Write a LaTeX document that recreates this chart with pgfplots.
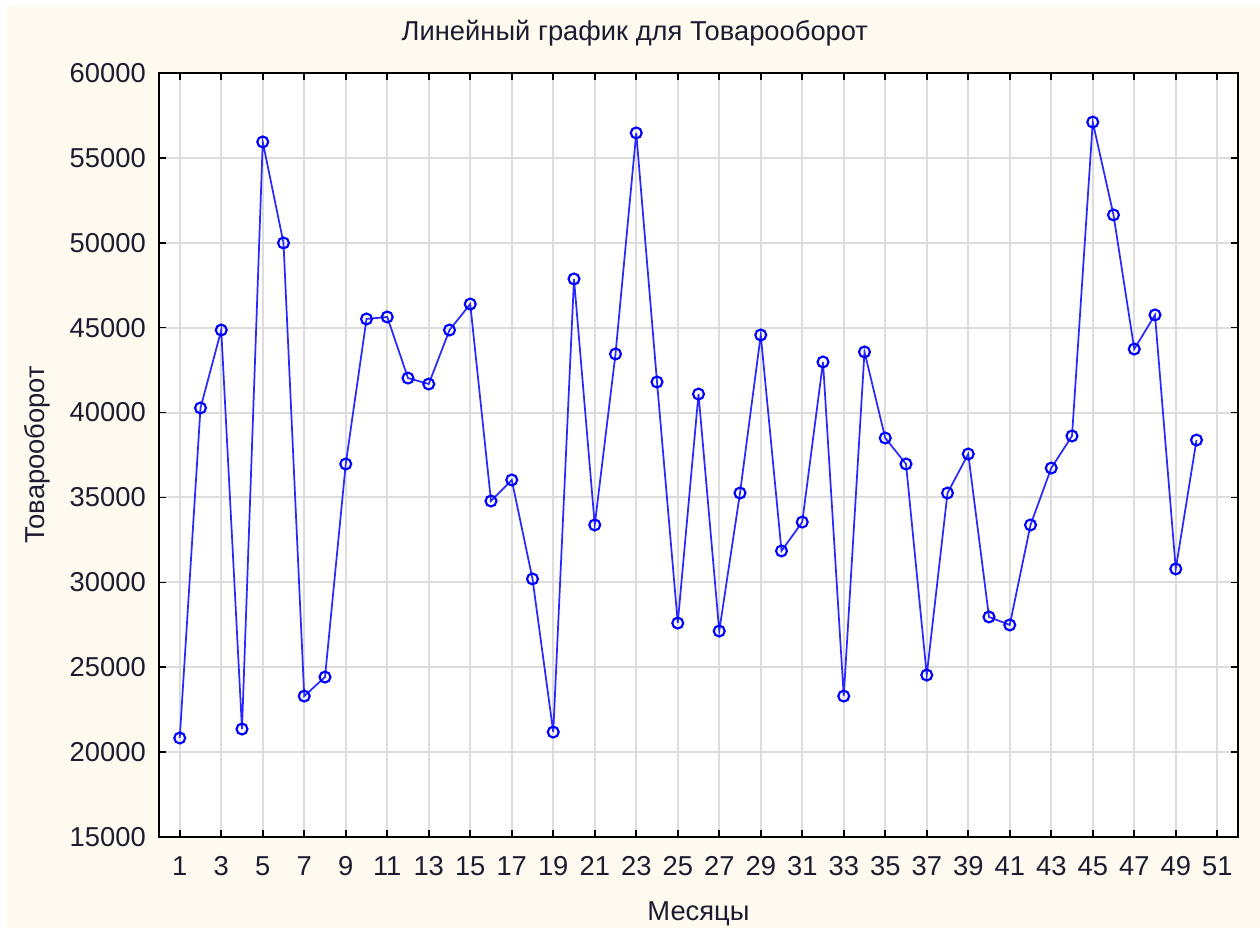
\documentclass[border=0pt]{standalone}
\usepackage{fontspec}
\setmainfont{Liberation Sans}
\usepackage{pgfplots}
\pgfplotsset{compat=1.18}
\definecolor{bgcream}{RGB}{255,250,240}
\definecolor{gridgray}{RGB}{221,221,221}
\definecolor{txt}{RGB}{28,28,48}
\definecolor{lineblue}{RGB}{40,40,255}
\begin{document}
\begin{tikzpicture}[x=1pt,y=1pt]
\fill[white] (0,0) rectangle (945,696);
\fill[bgcream] (5.25,0) rectangle (945,692.25);
\begin{axis}[
  at={(119.25pt,68.25pt)}, anchor=south west,
  scale only axis, width=809.25pt, height=573pt,
  xmin=0, xmax=52, ymin=15000, ymax=60000,
  xtick={1,3,...,51},
  ytick={15000,20000,...,60000},
  scaled y ticks=false,
  /pgf/number format/assume math mode=true,
  /pgf/number format/set thousands separator={},
  font=\fontsize{20.5}{24}\selectfont,
  tick label style={text=txt},
  xticklabel style={anchor=base, inner sep=0pt, yshift=-29.25pt},
  yticklabel style={anchor=east, inner sep=0pt, xshift=-9.75pt},
  tick align=inside, tickpos=both,
  major tick length=5.25pt,
  major tick style={line width=1.2pt, black},
  axis line style={line width=1.5pt, black},
  axis background/.style={fill=white},
  grid=major,
  major grid style={line width=1.5pt, gridgray},
  title={Линейный график для Товарооборот},
  title style={at={(rel axis cs:0.441,1)}, anchor=base, yshift=18pt, inner sep=0pt, text=txt},
  xlabel={Месяцы},
  xlabel style={at={(rel axis cs:0.5,0)}, anchor=base, yshift=-63pt, inner sep=0pt, text=txt},
  ylabel={Товарооборот},
  ylabel style={at={(rel axis cs:0,0.5)}, anchor=base, yshift=85.5pt, inner sep=0pt, text=txt},
]
\addplot[lineblue, line width=1.3pt, mark=o, mark size=4.1pt,
  mark options={draw=blue, line width=1.6pt, fill=none}] coordinates {
(1,20830) (2,40270) (3,44860) (4,21360) (5,55940) (6,49990) (7,23300) (8,24420)
(9,36970) (10,45510) (11,45630) (12,42030) (13,41680) (14,44860) (15,46390)
(16,34790) (17,36030) (18,30200) (19,21180) (20,47870) (21,33380) (22,43450)
(23,56470) (24,41800) (25,27600) (26,41090) (27,27130) (28,35260) (29,44570)
(30,31850) (31,33550) (32,42980) (33,23300) (34,43570) (35,38500) (36,36970)
(37,24540) (38,35260) (39,37560) (40,27960) (41,27490) (42,33380) (43,36730)
(44,38620) (45,57110) (46,51640) (47,43740) (48,45750) (49,30790) (50,38380)
};
\end{axis}
\end{tikzpicture}
\end{document}
